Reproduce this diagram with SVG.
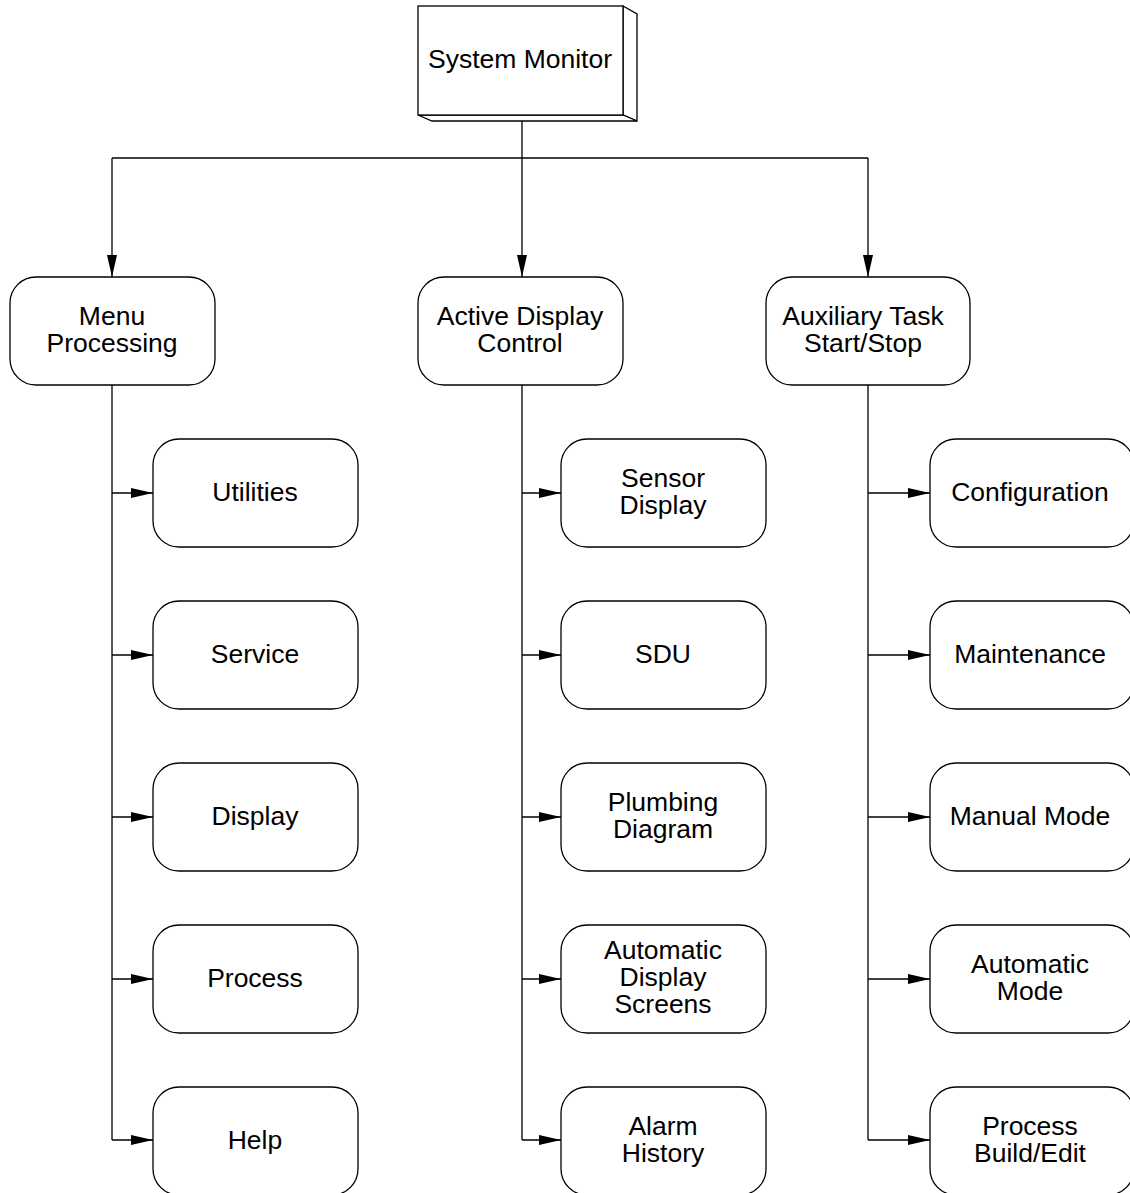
<svg xmlns="http://www.w3.org/2000/svg" width="1130" height="1193" viewBox="0 0 1130 1193">
  <style>
    .box { fill: #fff; stroke: #000; stroke-width: 1.3; }
    .lbl { font-family: "Liberation Sans", Arial, sans-serif; font-size: 26.5px; fill: #000; text-anchor: middle; }
    .wire { fill: none; stroke: #000; stroke-width: 1.3; }
  </style>
  <defs>
    <marker id="arrow" viewBox="0 0 22 10" refX="22" refY="5" markerWidth="22" markerHeight="10" markerUnits="userSpaceOnUse" orient="auto">
      <path d="M0,0 L22,5 L0,10 Z" fill="#000"/>
    </marker>
  </defs>

  <!-- connectors -->
  <g id="connectors" class="wire">
    <path d="M522,121 V158"/>
    <path d="M112,158 H868"/>
    <path d="M112,158 V277" marker-end="url(#arrow)"/>
    <path d="M522,158 V277" marker-end="url(#arrow)"/>
    <path d="M868,158 V277" marker-end="url(#arrow)"/>

    <path d="M112,385 V1140"/>
    <path d="M112,493 H153" marker-end="url(#arrow)"/>
    <path d="M112,655 H153" marker-end="url(#arrow)"/>
    <path d="M112,817 H153" marker-end="url(#arrow)"/>
    <path d="M112,979 H153" marker-end="url(#arrow)"/>
    <path d="M112,1140 H153" marker-end="url(#arrow)"/>

    <path d="M522,385 V1140"/>
    <path d="M522,493 H561" marker-end="url(#arrow)"/>
    <path d="M522,655 H561" marker-end="url(#arrow)"/>
    <path d="M522,817 H561" marker-end="url(#arrow)"/>
    <path d="M522,979 H561" marker-end="url(#arrow)"/>
    <path d="M522,1140 H561" marker-end="url(#arrow)"/>

    <path d="M868,385 V1140"/>
    <path d="M868,493 H930" marker-end="url(#arrow)"/>
    <path d="M868,655 H930" marker-end="url(#arrow)"/>
    <path d="M868,817 H930" marker-end="url(#arrow)"/>
    <path d="M868,979 H930" marker-end="url(#arrow)"/>
    <path d="M868,1140 H930" marker-end="url(#arrow)"/>
  </g>

  <!-- root: raised block -->
  <g id="system-monitor">
    <polygon class="box" points="623,6 637,14 637,121 623,115"/>
    <polygon class="box" points="418,115 432,121 637,121 623,115"/>
    <rect class="box" x="418" y="6" width="205" height="109"/>
    <text class="lbl" x="520" y="68">System Monitor</text>
  </g>

  <!-- second level -->
  <g id="menu-processing">
    <rect class="box" x="10" y="277" width="205" height="108" rx="26"/>
    <text class="lbl" x="112" y="325">Menu</text>
    <text class="lbl" x="112" y="352">Processing</text>
  </g>
  <g id="active-display-control">
    <rect class="box" x="418" y="277" width="205" height="108" rx="26"/>
    <text class="lbl" x="520" y="325">Active Display</text>
    <text class="lbl" x="520" y="352">Control</text>
  </g>
  <g id="auxiliary-task">
    <rect class="box" x="766" y="277" width="204" height="108" rx="26"/>
    <text class="lbl" x="863" y="325">Auxiliary Task</text>
    <text class="lbl" x="863" y="352">Start/Stop</text>
  </g>

  <!-- menu processing children -->
  <g id="utilities">
    <rect class="box" x="153" y="439" width="205" height="108" rx="26"/>
    <text class="lbl" x="255" y="501">Utilities</text>
  </g>
  <g id="service">
    <rect class="box" x="153" y="601" width="205" height="108" rx="26"/>
    <text class="lbl" x="255" y="663">Service</text>
  </g>
  <g id="display">
    <rect class="box" x="153" y="763" width="205" height="108" rx="26"/>
    <text class="lbl" x="255" y="825">Display</text>
  </g>
  <g id="process">
    <rect class="box" x="153" y="925" width="205" height="108" rx="26"/>
    <text class="lbl" x="255" y="987">Process</text>
  </g>
  <g id="help">
    <rect class="box" x="153" y="1087" width="205" height="108" rx="26"/>
    <text class="lbl" x="255" y="1149">Help</text>
  </g>

  <!-- active display children -->
  <g id="sensor-display">
    <rect class="box" x="561" y="439" width="205" height="108" rx="26"/>
    <text class="lbl" x="663" y="487">Sensor</text>
    <text class="lbl" x="663" y="514">Display</text>
  </g>
  <g id="sdu">
    <rect class="box" x="561" y="601" width="205" height="108" rx="26"/>
    <text class="lbl" x="663" y="663">SDU</text>
  </g>
  <g id="plumbing-diagram">
    <rect class="box" x="561" y="763" width="205" height="108" rx="26"/>
    <text class="lbl" x="663" y="811">Plumbing</text>
    <text class="lbl" x="663" y="838">Diagram</text>
  </g>
  <g id="automatic-display-screens">
    <rect class="box" x="561" y="925" width="205" height="108" rx="26"/>
    <text class="lbl" x="663" y="959">Automatic</text>
    <text class="lbl" x="663" y="986">Display</text>
    <text class="lbl" x="663" y="1013">Screens</text>
  </g>
  <g id="alarm-history">
    <rect class="box" x="561" y="1087" width="205" height="108" rx="26"/>
    <text class="lbl" x="663" y="1135">Alarm</text>
    <text class="lbl" x="663" y="1162">History</text>
  </g>

  <!-- auxiliary task children -->
  <g id="configuration">
    <rect class="box" x="930" y="439" width="204" height="108" rx="26"/>
    <text class="lbl" x="1030" y="501">Configuration</text>
  </g>
  <g id="maintenance">
    <rect class="box" x="930" y="601" width="204" height="108" rx="26"/>
    <text class="lbl" x="1030" y="663">Maintenance</text>
  </g>
  <g id="manual-mode">
    <rect class="box" x="930" y="763" width="204" height="108" rx="26"/>
    <text class="lbl" x="1030" y="825">Manual Mode</text>
  </g>
  <g id="automatic-mode">
    <rect class="box" x="930" y="925" width="204" height="108" rx="26"/>
    <text class="lbl" x="1030" y="973">Automatic</text>
    <text class="lbl" x="1030" y="1000">Mode</text>
  </g>
  <g id="process-build-edit">
    <rect class="box" x="930" y="1087" width="204" height="108" rx="26"/>
    <text class="lbl" x="1030" y="1135">Process</text>
    <text class="lbl" x="1030" y="1162">Build/Edit</text>
  </g>
</svg>
